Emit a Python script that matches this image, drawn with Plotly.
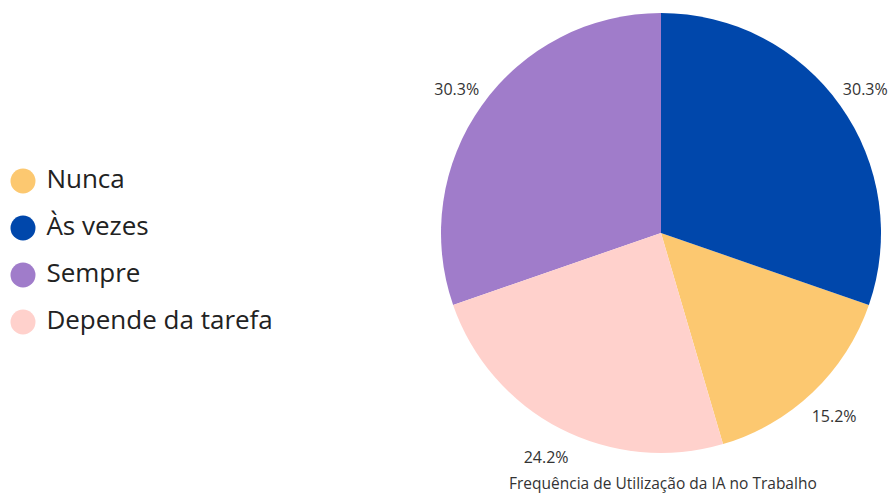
import math
import plotly.graph_objects as go

categories = ["Nunca", "Às vezes", "Sempre", "Depende da tarefa"]
counts = [5, 10, 10, 8]
colors = ["#FCC870", "#0047AB", "#A07CCA", "#FFD1CC"]
title_text = "Frequência de Utilização da IA no Trabalho"

W, H = 891, 493
CX, CY, R = 661, 233, 220          # pie centre / radius in pixels (layout)
LABEL_R = 1.14                     # label distance, in pie radii
LABEL_DY = 3                       # small downward nudge of labels, pixels

total = sum(counts)
fracs = [c / total for c in counts]
pct_labels = [f"{f:.1%}" for f in fracs]

fig = go.Figure()
pie_domain = dict(x=[(CX - R) / W, (CX + R) / W], y=[(H - CY - R) / H, (H - CY + R) / H])

# pie drawn counterclockwise; Nunca sits right after Às vezes going clockwise from 12 o'clock
rotation = fracs[1] * 360
fig.add_trace(go.Pie(
    labels=categories, values=counts, sort=False,
    direction="counterclockwise", rotation=rotation,
    marker=dict(colors=colors, line=dict(width=0)),
    textinfo="none", domain=pie_domain,
    showlegend=False, hoverinfo="label+percent",
))

# percentage labels at the mid-angle of each slice, on axes scaled in pie radii
end_angle = rotation + fracs[0] * 360
cum = 0.0
lx, ly = [], []
for f in fracs:
    a = math.radians(end_angle - (cum + f / 2) * 360)
    lx.append(LABEL_R * math.sin(a))
    ly.append(LABEL_R * math.cos(a) - LABEL_DY / R)
    cum += f
fig.add_trace(go.Scatter(
    x=lx, y=ly, mode="text", text=pct_labels, xaxis="x2", yaxis="y2",
    textfont=dict(family="Open Sans", size=16, color="#333333"),
    cliponaxis=False, showlegend=False, hoverinfo="skip",
))

# legend drawn as a scatter on hidden axes
ys = [181 + 47 * i for i in range(len(categories))]
fig.add_trace(go.Scatter(
    x=[23] * len(categories), y=ys, mode="markers+text",
    marker=dict(size=25, color=colors, symbol="circle"),
    text=[" " + c for c in categories], textposition="middle right",
    textfont=dict(family="Open Sans", size=26, color="#222222"),
    showlegend=False, hoverinfo="skip", cliponaxis=False,
))

fig.update_layout(
    width=W, height=H, margin=dict(l=0, r=0, t=0, b=0),
    paper_bgcolor="white", plot_bgcolor="rgba(0,0,0,0)",
    xaxis=dict(domain=[0, 400 / W], range=[0, 400], visible=False, fixedrange=True),
    yaxis=dict(domain=[0, 1], range=[H, 0], visible=False, fixedrange=True),
    xaxis2=dict(domain=[0, 1], range=[-CX / R, (W - CX) / R], anchor="y2",
                visible=False, fixedrange=True),
    yaxis2=dict(domain=[0, 1], range=[-(H - CY) / R, CY / R], anchor="x2",
                visible=False, fixedrange=True),
    font=dict(family="Open Sans"),
    annotations=[dict(
        text=title_text, x=663 / W, y=(H - 483) / H, xref="paper", yref="paper",
        showarrow=False, font=dict(family="Open Sans", size=15.5, color="#333333"),
        xanchor="center", yanchor="middle",
    )],
)

fig.write_html("out.html", config={"displayModeBar": False},
               post_script="document.body.style.margin='0';")
